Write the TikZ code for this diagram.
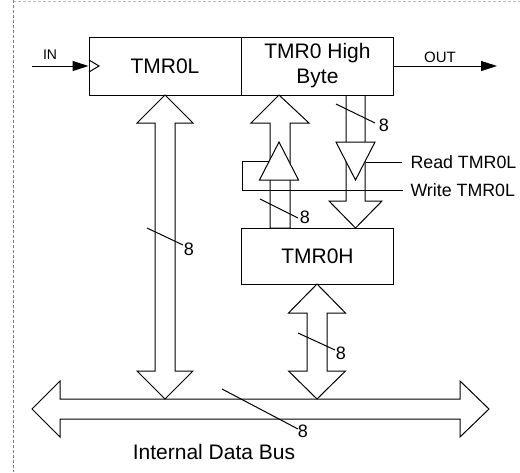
\documentclass[tikz,border=0pt]{standalone}
\usepackage{fontspec}
\setmainfont{Liberation Sans}
\usetikzlibrary{arrows.meta}

\begin{document}
\begin{tikzpicture}[x=0.5pt,y=-0.5pt,line width=0.5pt,
   box/.style={draw,minimum width=76pt,inner sep=0pt,font=\fontsize{10.5}{12.5}\selectfont},
   bus/.style={draw,fill=white,line join=miter},
   bits/.style={font=\fontsize{9}{10}\selectfont,inner sep=0pt},
   sig/.style={font=\fontsize{8.9}{10}\selectfont,anchor=west,inner sep=0pt}]
   \useasboundingbox (0,0) rectangle (520,472);
   % frame
   \draw[gray!55,dash pattern=on 1.5pt off 1pt] (13,1) -- (520,1);
   \draw[gray,dash pattern=on 1.5pt off 1pt] (13,0) -- (13,472);
   % registers
   \node[box,minimum height=29pt] (tmrl) at (165,66) {TMR0L};
   \node[box,minimum height=29pt,align=center] (tmrhb) at (317.5,66) {TMR0 High\\Byte};
   \node[box,minimum height=28pt] (tmrh) at (317.5,256) {TMR0H};
   \draw (89,60) -- (99,66) -- (89,72);
   \coordinate (in) at (32,66);
   \coordinate (out) at (497,66);
   \draw[-{Triangle[length=8pt,width=5pt]}] (in) -- (tmrl.west);
   \draw[-{Triangle[length=8pt,width=5pt]}] (tmrhb.east) -- (out);
   \node[font=\fontsize{7}{8}\selectfont] (inl) at (50,55) {IN};
   \node[font=\fontsize{7.5}{8}\selectfont] (outl) at (440,57) {OUT};
   % internal data bus
   \draw[bus] (32,409) -- (60,381) -- (60,399) -- (460,399) -- (460,381) -- (489,409)
      -- (460,437) -- (460,419) -- (60,419) -- (60,437) -- cycle;
   \node[font=\fontsize{10.5}{12}\selectfont] (ibus) at (214,452) {Internal Data Bus};
   % TMR0L <-> bus
   \draw[bus] (165,95) -- (193,123) -- (175,123) -- (175,371) -- (193,371) -- (165,399)
      -- (137,371) -- (155,371) -- (155,123) -- (137,123) -- cycle;
   % TMR0H <-> bus
   \draw[bus] (317,284) -- (345.5,313) -- (327,313) -- (327,371) -- (345.5,371) -- (317,399)
      -- (288.5,371) -- (307,371) -- (307,313) -- (288.5,313) -- cycle;
   % TMR0H -> high byte, write buffer
   \draw[bus] (279,95) -- (309,123) -- (290,123) -- (290,228) -- (270,228) -- (270,123)
      -- (251,123) -- cycle;
   \draw[bus] (279,142) -- (298.5,180) -- (259.5,180) -- cycle;
   % high byte -> TMR0H, read buffer
   \draw (346,95) -- (346,201) -- (329,201) -- (355.5,228) -- (382,201) -- (365,201) -- (365,95);
   \draw[bus] (336,142) -- (375,142) -- (355.5,180) -- cycle;
   % enables
   \coordinate (rd) at (365.5,162);
   \coordinate (wr) at (269,161);
   \draw (rd) -- (402,162);
   \node[sig] (rdl) at (410,162) {Read TMR0L};
   \draw (wr) -- (242,161) -- (242,190) -- (403,190);
   \node[sig] (wrl) at (410,190) {Write TMR0L};
   % bit widths
   \draw (147,228) -- (183,245);
   \node[bits] (b1) at (189,249) {8};
   \draw (336,104) -- (375,123);
   \node[bits] (b2) at (384,125) {8};
   \draw (260,199) -- (298,218);
   \node[bits] (b3) at (305,217) {8};
   \draw (298,333) -- (335,350);
   \node[bits] (b4) at (341,353) {8};
   \draw (222,389) -- (298,429);
   \node[bits] (b5) at (303,431) {8};
\end{tikzpicture}
\end{document}
